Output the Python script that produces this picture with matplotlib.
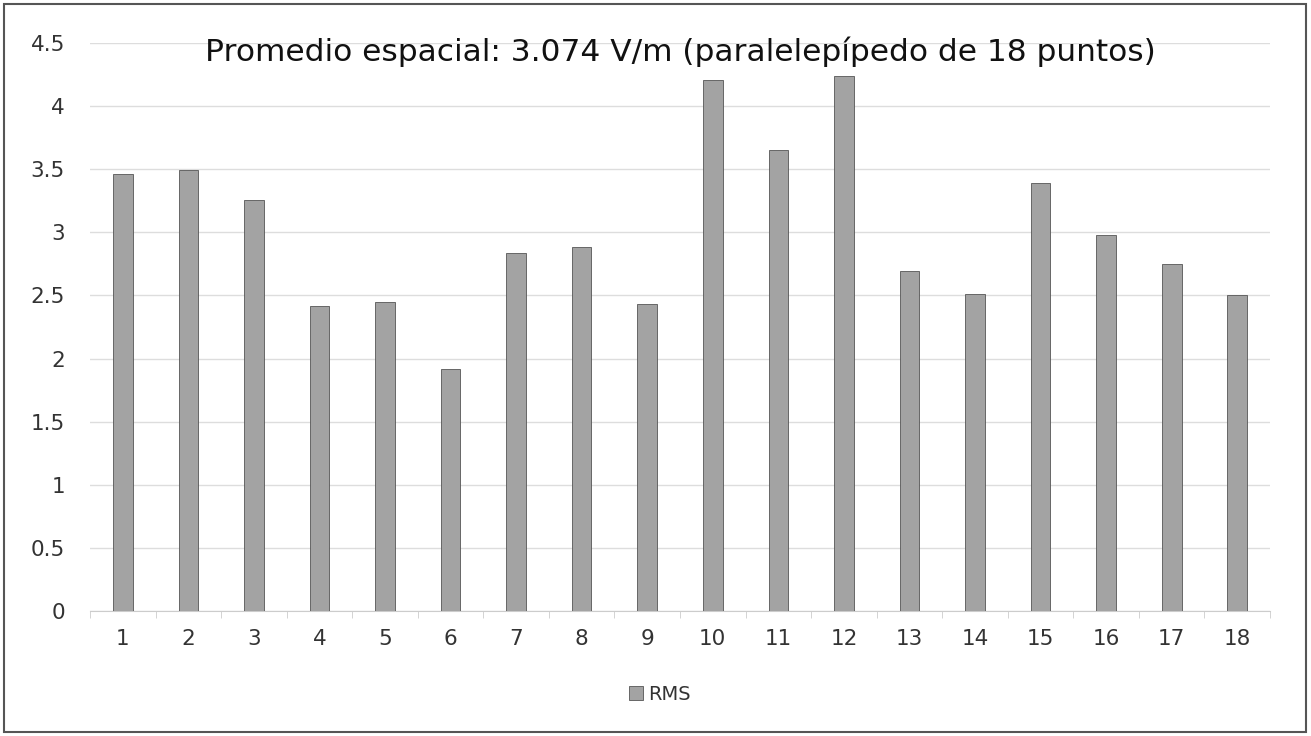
import matplotlib
matplotlib.use("Agg")
import matplotlib.pyplot as plt
from matplotlib.patches import Rectangle
import numpy as np

categories = [str(i) for i in range(1, 19)]
rms = [3.46, 3.49, 3.26, 2.42, 2.45, 1.92, 2.84, 2.88, 2.43,
       4.21, 3.65, 4.24, 2.69, 2.51, 3.39, 2.98, 2.75, 2.50]
yticks = [0, 0.5, 1, 1.5, 2, 2.5, 3, 3.5, 4, 4.5]
ytick_labels = ["0", "0.5", "1", "1.5", "2", "2.5", "3", "3.5", "4", "4.5"]
title = "Promedio espacial: 3.074 V/m (paralelepípedo de 18 puntos)"

plt.rcParams['font.family'] = ['DejaVu Sans']

fig = plt.figure(figsize=(13.11, 7.36), dpi=100)
ax = fig.add_axes([90/1311, 1-611/736, 1180/1311, 568/736])

x = np.arange(len(categories))
ax.bar(x, rms, width=0.3, color="#a3a3a3", edgecolor="#555555", linewidth=0.6,
       label="RMS", zorder=3)

ax.set_xlim(-0.5, len(categories) - 0.5)
ax.set_ylim(0, 4.5)
ax.set_yticks(yticks)
ax.set_yticklabels(ytick_labels)
ax.set_xticks(x)
ax.set_xticklabels(categories)
ax.set_xticks(np.arange(-0.5, len(categories)), minor=True)
ax.tick_params(axis='x', which='major', length=0, pad=13, labelsize=15.5, colors="#333333")
ax.tick_params(axis='x', which='minor', length=5, color="#cccccc")
ax.tick_params(axis='y', length=0, pad=18, labelsize=15.5, colors="#333333")

ax.grid(axis='y', color="#dddddd", linewidth=1.0, zorder=0)
for s in ["top", "right", "left"]:
    ax.spines[s].set_visible(False)
ax.spines["bottom"].set_color("#cccccc")

ax.text(0.5, 0.985, title, transform=ax.transAxes, ha='center', va='center',
        fontsize=22.5, color="#111111", zorder=5)

fig.legend(loc='center', bbox_to_anchor=(660/1311, 1-694/736), frameon=False,
           fontsize=14, handlelength=0.7, handleheight=0.7, handletextpad=0.3,
           labelcolor="#333333")

fig.patches.append(Rectangle((4/1311, 4/736), 1302/1311, 728/736, transform=fig.transFigure,
                             fill=False, edgecolor="#555555", linewidth=1.5))

fig.savefig("out.png", dpi=100)
